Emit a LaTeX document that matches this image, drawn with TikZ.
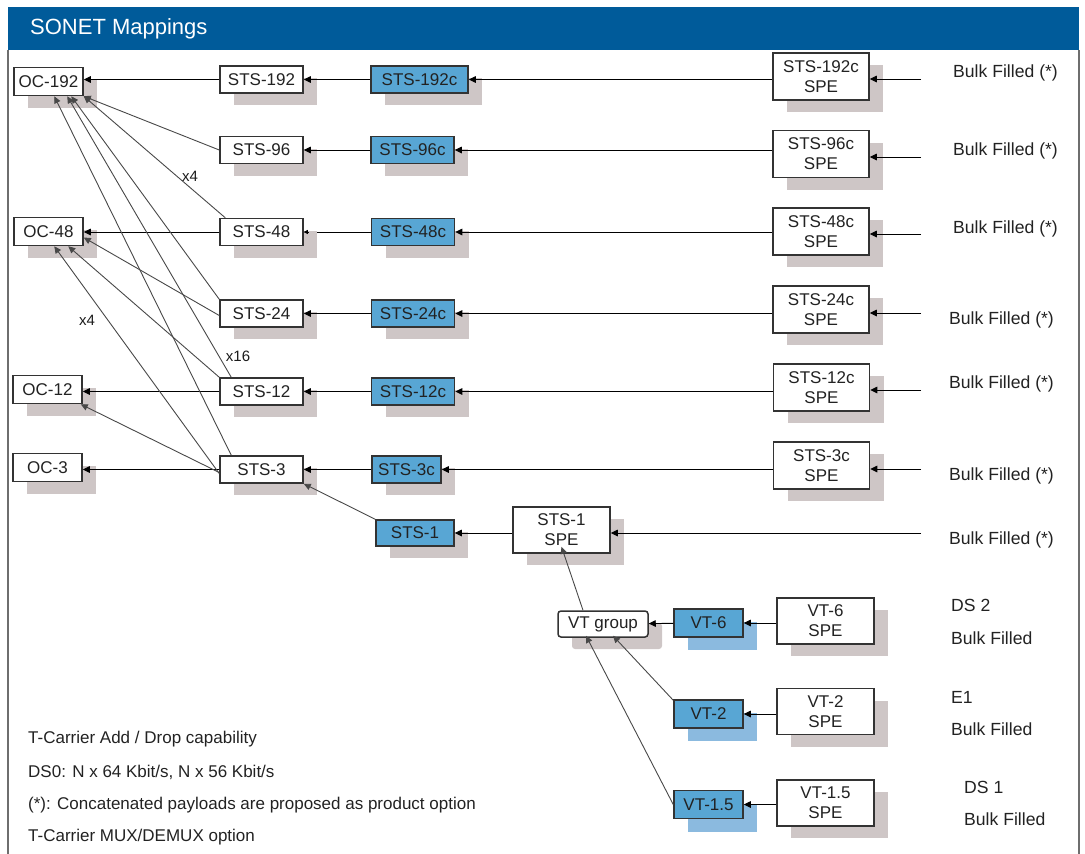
\documentclass[tikz,border=0pt]{standalone}
\usepackage{fontspec}
\setmainfont{Liberation Sans}
\usetikzlibrary{arrows.meta,shadows}
\definecolor{hdr}{RGB}{0,91,154}
\definecolor{bfill}{RGB}{88,166,212}
\definecolor{gshc}{RGB}{206,198,198}
\definecolor{bshc}{RGB}{139,186,223}
\definecolor{bord}{RGB}{51,51,51}
\definecolor{txt}{RGB}{34,34,34}
\definecolor{diag}{RGB}{72,72,72}
\definecolor{framec}{RGB}{110,110,110}
\tikzset{
  boxbase/.style={draw=bord, line width=1.5pt, inner sep=0pt, text=txt, align=center,
    font=\fontsize{17}{20}\selectfont},
  wbox/.style={boxbase, fill=white},
  bbox/.style={boxbase, fill=bfill},
  gsh/.style={drop shadow={shadow xshift=14pt, shadow yshift=-12pt, fill=gshc, opacity=1}},
  bsh/.style={drop shadow={shadow xshift=14pt, shadow yshift=-13pt, fill=bshc, opacity=1}},
  arr/.style={-{Triangle[length=7pt,width=6.5pt]}, line width=0.9pt, draw=black},
  darr/.style={-{Triangle[length=7pt,width=6.5pt]}, line width=0.9pt, draw=diag},
  lbl/.style={text=txt, inner sep=0pt, font=\fontsize{17}{20}\selectfont},
  rlbl/.style={text=txt, inner sep=0pt, font=\fontsize{17.6}{20}\selectfont},
  mult/.style={text=txt!80!black, inner sep=0pt, font=\fontsize{15}{18}\selectfont},
}
\begin{document}
\begin{tikzpicture}[x=1pt,y=-1pt]
\useasboundingbox (0,0) rectangle (1085,854);
% frame and header
\fill[hdr] (8,7) rectangle (1079,50);
\node[anchor=west, text=white, inner sep=0pt, font=\fontsize{22}{26}\selectfont] (title) at (30,28.5) {SONET Mappings};
\draw[framec, line width=2pt] (8,50) -- (8,854);
\draw[framec, line width=2pt] (1079,50) -- (1079,854);

% OC boxes
\node[wbox,gsh,minimum width=69pt,minimum height=28pt] (oc192) at (48.5,81.5) {OC-192};
\node[wbox,gsh,minimum width=69pt,minimum height=28pt] (oc48) at (48.5,231.5) {OC-48};
\node[wbox,gsh,minimum width=69pt,minimum height=28pt] (oc12) at (47.5,389.5) {OC-12};
\node[wbox,gsh,minimum width=69pt,minimum height=28pt] (oc3) at (47.5,467.5) {OC-3};

% STS-N boxes
\node[wbox,gsh,minimum width=83pt,minimum height=27pt] (sts192) at (261.5,79.5) {STS-192};
\node[wbox,gsh,minimum width=83pt,minimum height=27pt] (sts96) at (261.5,150) {STS-96};
\node[wbox,gsh,minimum width=83pt,minimum height=27pt] (sts48) at (261.5,232) {STS-48};
\node[wbox,gsh,minimum width=83pt,minimum height=27pt] (sts24) at (261.5,313.5) {STS-24};
\node[wbox,gsh,minimum width=83pt,minimum height=27pt] (sts12) at (261.5,391.5) {STS-12};
\node[wbox,gsh,minimum width=83pt,minimum height=27pt] (sts3) at (261.5,469.5) {STS-3};

% STS-Nc boxes
\node[bbox,gsh,minimum width=97pt,minimum height=27pt] (sts192c) at (419.5,79.5) {STS-192c};
\node[bbox,gsh,minimum width=83pt,minimum height=27pt] (sts96c) at (412.5,150) {STS-96c};
\node[bbox,gsh,minimum width=83pt,minimum height=27pt] (sts48c) at (413,232) {STS-48c};
\node[bbox,gsh,minimum width=83pt,minimum height=27pt] (sts24c) at (413,313.5) {STS-24c};
\node[bbox,gsh,minimum width=83pt,minimum height=27pt] (sts12c) at (413,391.5) {STS-12c};
\node[bbox,gsh,minimum width=69pt,minimum height=27pt] (sts3c) at (406.5,469.5) {STS-3c};

% SPE boxes
\node[wbox,gsh,minimum width=96pt,minimum height=47pt] (spe192) at (821,76.5) {STS-192c\\SPE};
\node[wbox,gsh,minimum width=96pt,minimum height=47pt] (spe96) at (821,154) {STS-96c\\SPE};
\node[wbox,gsh,minimum width=96pt,minimum height=47pt] (spe48) at (821,231.5) {STS-48c\\SPE};
\node[wbox,gsh,minimum width=96pt,minimum height=47pt] (spe24) at (821,309.5) {STS-24c\\SPE};
\node[wbox,gsh,minimum width=96pt,minimum height=47pt] (spe12) at (821.5,387.5) {STS-12c\\SPE};
\node[wbox,gsh,minimum width=96pt,minimum height=47pt] (spe3) at (821.5,465.5) {STS-3c\\SPE};

% STS-1 and VT part
\node[bbox,gsh,minimum width=78pt,minimum height=26pt] (sts1) at (415,533) {STS-1};
\node[wbox,gsh,minimum width=97pt,minimum height=46pt] (spe1) at (561.5,530) {STS-1\\SPE};
\node[wbox,gsh,rounded corners=3pt,minimum width=90pt,minimum height=26pt] (vtg) at (603,624) {VT group};
\node[bbox,bsh,minimum width=69pt,minimum height=28pt] (vt6) at (708.5,623) {VT-6};
\node[bbox,bsh,minimum width=69pt,minimum height=28pt] (vt2) at (708.5,714) {VT-2};
\node[bbox,bsh,minimum width=69pt,minimum height=28pt] (vt15) at (708.5,804.5) {VT-1.5};
\node[wbox,gsh,minimum width=97pt,minimum height=46pt] (spevt6) at (825.5,621) {VT-6\\SPE};
\node[wbox,gsh,minimum width=97pt,minimum height=46pt] (spevt2) at (825.5,711.5) {VT-2\\SPE};
\node[wbox,gsh,minimum width=97pt,minimum height=46pt] (spevt15) at (825.5,803) {VT-1.5\\SPE};

% input coordinates
\coordinate (in192) at (921,79);
\coordinate (in96) at (921,157);
\coordinate (in48) at (921,234);
\coordinate (in24) at (921,313);
\coordinate (in12) at (921,390);
\coordinate (in3) at (921,469);
\coordinate (in1) at (921,533);

% input arrows
\draw[arr] (in192) -- (in192 -| spe192.east);
\draw[arr] (in96) -- (in96 -| spe96.east);
\draw[arr] (in48) -- (in48 -| spe48.east);
\draw[arr] (in24) -- (in24 -| spe24.east);
\draw[arr] (in12) -- (in12 -| spe12.east);
\draw[arr] (in3) -- (in3 -| spe3.east);
\draw[arr] (in1) -- (in1 -| spe1.east);

% SPE -> STS-Nc
\draw[arr] (spe192.west |- sts192c.east) -- (sts192c.east);
\draw[arr] (spe96.west |- sts96c.east) -- (sts96c.east);
\draw[arr] (spe48.west |- sts48c.east) -- (sts48c.east);
\draw[arr] (spe24.west |- sts24c.east) -- (sts24c.east);
\draw[arr] (spe12.west |- sts12c.east) -- (sts12c.east);
\draw[arr] (spe3.west |- sts3c.east) -- (sts3c.east);

% STS-Nc -> STS-N
\draw[arr] (sts192c) -- (sts192);
\draw[arr] (sts96c) -- (sts96);
\coordinate (g48) at (317,232);
\draw[line width=0.9pt] (sts48c.west) -- (g48);
\draw[-{Triangle[length=4pt,width=4pt]}, line width=0.6pt] ([xshift=5pt]sts48.east) -- (sts48.east);
\draw[arr] (sts24c) -- (sts24);
\draw[arr] (sts12c) -- (sts12);
\draw[arr] (sts3c) -- (sts3);

% STS-N -> OC horizontal
\draw[arr] (sts192) -- (sts192 -| oc192.east);
\draw[arr] (sts48) -- (sts48 -| oc48.east);
\draw[arr] (sts12) -- (sts12 -| oc12.east);
\draw[arr] (sts3) -- (sts3 -| oc3.east);

% diagonals into OC-192
\draw[darr] (sts96.west) -- (oc192.south east);
\draw[darr] ([xshift=6pt]sts48.north west) -- (oc192.south east);
\draw[darr] (sts24.north west) -- ([xshift=58pt]oc192.south west);
\draw[darr] ([xshift=12pt]sts12.north west) -- ([xshift=54pt]oc192.south west);
\draw[darr] ([xshift=12pt]sts3.north west) -- ([xshift=41pt]oc192.south west);

% diagonals into OC-48
\draw[darr] ([yshift=-2pt]sts24.west) -- ([yshift=-6pt]oc48.east);
\draw[darr] (sts12.north west) -- ([xshift=55pt]oc48.south west);
\draw[darr] ([yshift=-4pt]sts3.west) -- ([xshift=41pt]oc48.south west);

% into OC-12
\draw[darr] ([yshift=-3pt]sts3.west) -- ([xshift=-2pt]oc12.south east);

% STS-1 -> STS-3
\draw[darr] (sts1.north west) -- (sts3.south east);
\draw[arr] (spe1.west |- sts1.east) -- (sts1.east);

% VT part
\draw[darr] ([xshift=-20pt]vtg.north) -- ([yshift=7pt]spe1.south);
\draw[arr] (vt6) -- (vtg);
\draw[darr] ([yshift=-1pt]vt2.north west) -- ([xshift=10pt,yshift=2pt]vtg.south);
\draw[darr] (vt15.west) -- ([xshift=-17pt,yshift=2pt]vtg.south);
\draw[arr] (spevt6.west |- vt6.east) -- (vt6.east);
\draw[arr] (spevt2.west |- vt2.east) -- (vt2.east);
\draw[arr] (spevt15.west |- vt15.east) -- (vt15.east);

% multiplicity labels
\node[mult] (m1) at (190,176) {x4};
\node[mult] (m2) at (87,320) {x4};
\node[mult] (m3) at (238,356) {x16};

% right labels
\node[rlbl,anchor=west] (b192) at (953,73) {Bulk Filled (*)};
\node[rlbl,anchor=west] (b96) at (953,151) {Bulk Filled (*)};
\node[rlbl,anchor=west] (b48) at (953,229) {Bulk Filled (*)};
\node[rlbl,anchor=west] (b24) at (949,320) {Bulk Filled (*)};
\node[rlbl,anchor=west] (b12) at (949,384) {Bulk Filled (*)};
\node[rlbl,anchor=west] (b3) at (949,476) {Bulk Filled (*)};
\node[rlbl,anchor=west] (b1) at (949,540) {Bulk Filled (*)};
\node[rlbl,anchor=west] (ds2) at (951,605) {DS 2};
\node[rlbl,anchor=west] (bv6) at (951,638) {Bulk Filled};
\node[rlbl,anchor=west] (e1) at (951,697) {E1};
\node[rlbl,anchor=west] (bv2) at (951,729) {Bulk Filled};
\node[rlbl,anchor=west] (ds1) at (964,787) {DS 1};
\node[rlbl,anchor=west] (bv15) at (964,819) {Bulk Filled};

% bottom notes
\node[lbl,anchor=west] (n1) at (28,739) {T-Carrier Add / Drop capability};
\node[lbl,anchor=west] (n2) at (28,772) {DS0: N x 64 Kbit/s, N x 56 Kbit/s};
\node[lbl,anchor=west] (n3) at (28,805) {(*): Concatenated payloads are proposed as product option};
\node[lbl,anchor=west] (n4) at (28,837) {T-Carrier MUX/DEMUX option};
\end{tikzpicture}
\end{document}
